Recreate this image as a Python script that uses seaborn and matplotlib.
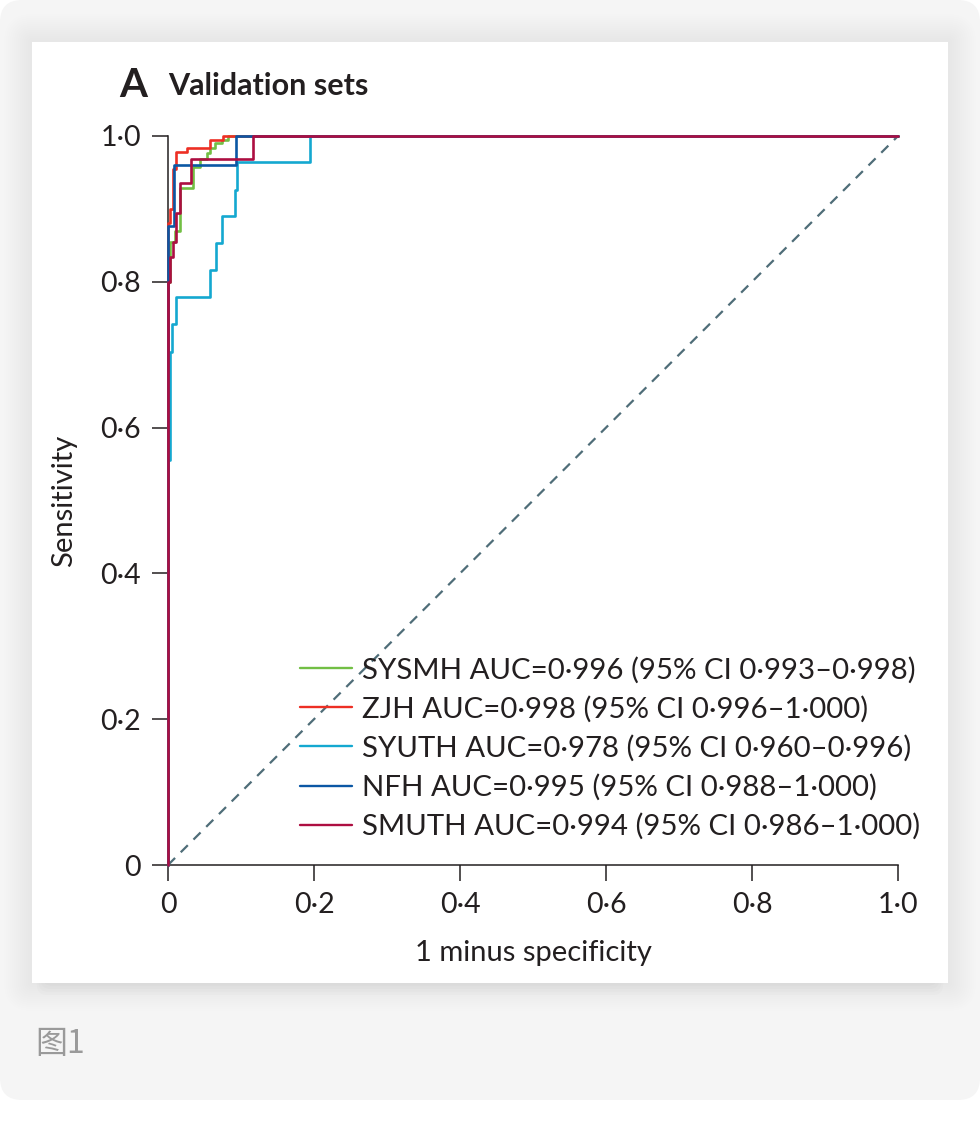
import pandas as pd
import matplotlib.pyplot as plt
import seaborn as sns
from matplotlib.patches import FancyBboxPatch, Rectangle

# ROC step vertices (1 minus specificity, sensitivity)
sysmh_fpr = [0, 0, 0.003, 0.003, 0.010, 0.010, 0.016, 0.016, 0.034, 0.034, 0.044, 0.044,
             0.053, 0.053, 0.058, 0.058, 0.064, 0.064, 0.074, 0.074, 0.082, 0.082, 1.0]
sysmh_tpr = [0, 0.80, 0.80, 0.855, 0.855, 0.87, 0.87, 0.928, 0.928, 0.958, 0.958, 0.969,
             0.969, 0.976, 0.976, 0.983, 0.983, 0.990, 0.990, 0.995, 0.995, 1.0, 1.0]

zjh_fpr = [0, 0, 0.003, 0.003, 0.007, 0.007, 0.011, 0.011, 0.026, 0.026, 0.058, 0.058, 0.076, 0.076, 1.0]
zjh_tpr = [0, 0.88, 0.88, 0.90, 0.90, 0.955, 0.955, 0.978, 0.978, 0.984, 0.984, 0.995, 0.995, 1.0, 1.0]

syuth_fpr = [0, 0, 0.003, 0.003, 0.006, 0.006, 0.0105, 0.0105, 0.0575, 0.0575, 0.0658, 0.0658,
             0.0735, 0.0735, 0.0918, 0.0918, 0.094, 0.094, 0.1945, 0.1945, 1.0]
syuth_tpr = [0, 0.555, 0.555, 0.704, 0.704, 0.742, 0.742, 0.779, 0.779, 0.816, 0.816, 0.853,
             0.853, 0.890, 0.890, 0.926, 0.926, 0.964, 0.964, 1.0, 1.0]

nfh_fpr = [0, 0, 0.008, 0.008, 0.093, 0.093, 1.0]
nfh_tpr = [0, 0.877, 0.877, 0.960, 0.960, 1.0, 1.0]

smuth_fpr = [0, 0, 0.003, 0.003, 0.007, 0.007, 0.011, 0.011, 0.016, 0.016, 0.032, 0.032, 0.116, 0.116, 1.0]
smuth_tpr = [0, 0.80, 0.80, 0.834, 0.834, 0.855, 0.855, 0.894, 0.894, 0.935, 0.935, 0.968, 0.968, 1.0, 1.0]

labels = [
    "SYSMH AUC=0·996 (95% CI 0·993–0·998)",
    "ZJH AUC=0·998 (95% CI 0·996–1·000)",
    "SYUTH AUC=0·978 (95% CI 0·960–0·996)",
    "NFH AUC=0·995 (95% CI 0·988–1·000)",
    "SMUTH AUC=0·994 (95% CI 0·986–1·000)",
]
colors = ["#72bf44", "#ed2f24", "#14a8d0", "#0b57a4", "#ad0e41"]

ticks = [0, 0.2, 0.4, 0.6, 0.8, 1.0]
tick_labels = ["0", "0·2", "0·4", "0·6", "0·8", "1·0"]

curves = [(sysmh_fpr, sysmh_tpr), (zjh_fpr, zjh_tpr), (syuth_fpr, syuth_tpr),
          (nfh_fpr, nfh_tpr), (smuth_fpr, smuth_tpr)]
frames = []
for lab, (f, t) in zip(labels, curves):
    frames.append(pd.DataFrame({"fpr": f, "tpr": t, "model": lab}))
df = pd.concat(frames, ignore_index=True)

sns.set_style("ticks")
plt.rcParams["font.family"] = ["Lato", "Noto Sans CJK SC", "DejaVu Sans"]
ink = "#231f20"

W, H = 980, 1141
fig = plt.figure(figsize=(W / 100, H / 100), dpi=100)
fig.patch.set_facecolor("white")

# page background, card shadow and white card (in inches so corners stay round)
tr = fig.dpi_scale_trans
bg = FancyBboxPatch((0, 0.41), 9.8, 11.0, boxstyle="round,pad=0,rounding_size=0.22",
                    transform=tr, facecolor="#f5f5f5", edgecolor="none", zorder=-20)
fig.patches.append(bg)
# soft halo all round
for i in range(14):
    p = 0.02 * (i + 1)
    sh = FancyBboxPatch((0.32 - p, 1.58 - p), 9.16 + 2 * p, 9.41 + 2 * p,
                        boxstyle="round,pad=0,rounding_size=%.3f" % p, transform=tr,
                        facecolor="black", edgecolor="none", alpha=0.005, zorder=-15)
    fig.patches.append(sh)
# stronger shadow under the card (kept inside the card's width)
for i in range(14):
    p = 0.03 * (i + 1)
    sh = FancyBboxPatch((0.32 + 0.3 - 0.6 * p, 1.58 + 0.3 - p), 9.16 - 0.6 + 1.2 * p, 0.6,
                        boxstyle="round,pad=0,rounding_size=0.1", transform=tr,
                        facecolor="black", edgecolor="none", alpha=0.013, zorder=-14)
    fig.patches.append(sh)
card = Rectangle((0.32, 1.58), 9.16, 9.41, transform=tr, facecolor="white",
                 edgecolor="none", zorder=-10)
fig.patches.append(card)

ax = fig.add_axes([168 / W, 276 / H, 730 / W, 729 / H])
ax.set_facecolor("none")

# chance diagonal
ax.plot([0, 1], [0, 1], color="#4f6d78", lw=1.6, dashes=(4.5, 3.6), zorder=1)

sns.lineplot(data=df, x="fpr", y="tpr", hue="model", palette=colors, hue_order=labels,
             sort=False, estimator=None, linewidth=1.9, clip_on=False, ax=ax, zorder=2)

ax.set_xlim(0, 1)
ax.set_ylim(0, 1)
ax.set_xticks(ticks)
ax.set_xticklabels(tick_labels)
ax.set_yticks(ticks)
ax.set_yticklabels(tick_labels)
ax.tick_params(axis="both", direction="out", length=11.5, width=1.1, colors=ink,
               labelsize=20.5, pad=8)
for s in ["top", "right"]:
    ax.spines[s].set_visible(False)
for s in ["left", "bottom"]:
    ax.spines[s].set_color(ink)
    ax.spines[s].set_linewidth(1.1)
    ax.spines[s].set_zorder(0)

ax.set_xlabel("1 minus specificity", fontsize=21, color=ink, labelpad=16)
ax.set_ylabel("Sensitivity", fontsize=21, color=ink, labelpad=17)

handles, labs = ax.get_legend_handles_labels()
leg = ax.legend(handles, labs, loc="lower left", bbox_to_anchor=(0.181, 0.034),
                frameon=False, fontsize=21.2, handlelength=1.75, handletextpad=0.35,
                labelspacing=0.42, borderpad=0, borderaxespad=0)
for t in leg.get_texts():
    t.set_color(ink)
for h in leg.get_lines():
    h.set_linewidth(1.7)

fig.text(119 / W, 1 - 97 / H, "A", fontsize=29, fontweight="bold", color=ink)
fig.text(168 / W, 1 - 95 / H, "Validation sets", fontsize=22, fontweight="bold", color=ink)
fig.text(35 / W, 1 - 1053 / H, "图1", fontsize=23, color="#9a9a9a",
         family=["Noto Sans CJK SC", "DejaVu Sans"])

plt.savefig("out.png", dpi=100)
